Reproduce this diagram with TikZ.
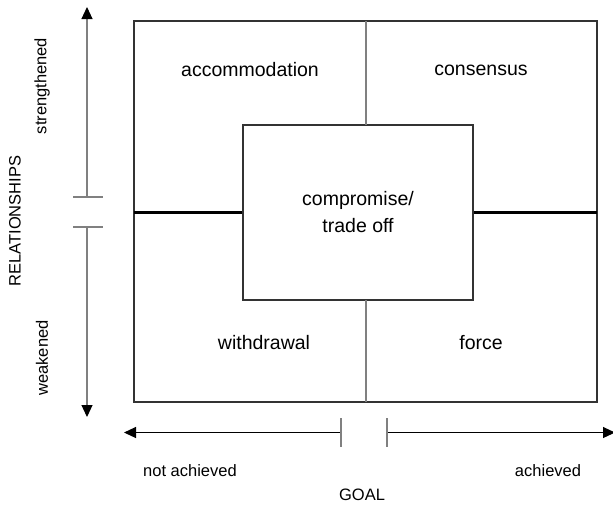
\documentclass[tikz,border=0pt]{standalone}
\usepackage{fontspec}
\setmainfont{Liberation Sans}
\usetikzlibrary{arrows.meta,positioning}

\begin{document}
\begin{tikzpicture}[x=0.5pt,y=-0.5pt,
  quad/.style={font=\fontsize{9.75}{13.5}\selectfont,align=center,inner sep=0pt,text=black},
  axislabel/.style={font=\fontsize{8.25}{10}\selectfont,inner sep=0pt},
  axisline/.style={line width=0.55pt,-{Triangle[length=6pt,width=5.5pt,black]}},
  breaktick/.style={line width=0.6pt,gray}]
\useasboundingbox (0,0) rectangle (613,505);

% Outer square and dividers
\draw[line width=0.9pt,black!80] (134,21) rectangle (597,402);
\node[draw,line width=0.8pt,black!80,minimum width=115pt,minimum height=87.5pt,
  quad,fill=white] (trade) at (358,212.5) {compromise/\\trade off};
\draw[line width=0.8pt,gray] (366,21) -- (366,125);
\draw[line width=0.8pt,gray] (366,300) -- (366,402);
\draw[line width=1.1pt] (134,212.5) -- (trade.west);
\draw[line width=1.1pt] (trade.east) -- (597,212.5);

% Quadrant labels
\node[quad] (accom) at (250,70) {accommodation};
\node[quad] (cons) at (481,70) {consensus};
\node[quad] (withd) at (264,343) {withdrawal};
\node[quad] (force) at (481,343) {force};

% Relationships axis
\coordinate (relTop) at (87,7);
\coordinate (relUp) at (87,197);
\coordinate (relLow) at (87,227);
\coordinate (relBot) at (87,417);
\draw[axisline,gray] (relUp) -- (relTop);
\draw[axisline,gray] (relLow) -- (relBot);
\draw[breaktick] (73,197) -- (103,197);
\draw[breaktick] (73,227) -- (103,227);
\node[axislabel,rotate=90] (strong) at (42,86) {strengthened};
\node[axislabel,rotate=90] (rel) at (15,221) {RELATIONSHIPS};
\node[axislabel,rotate=90] (weak) at (42,358) {weakened};

% Goal axis
\coordinate (goalL) at (124,432.5);
\coordinate (goalLm) at (341,432.5);
\coordinate (goalRm) at (387,432.5);
\coordinate (goalR) at (615,432.5);
\draw[axisline] (goalLm) -- (goalL);
\draw[axisline] (goalRm) -- (goalR);
\draw[breaktick] (341,418) -- (341,447);
\draw[breaktick] (387,418) -- (387,447);
\node[axislabel] (notach) at (190,471) {not achieved};
\node[axislabel] (ach) at (548,471) {achieved};
\node[axislabel] (goal) at (362,494.5) {GOAL};
\end{tikzpicture}
\end{document}
